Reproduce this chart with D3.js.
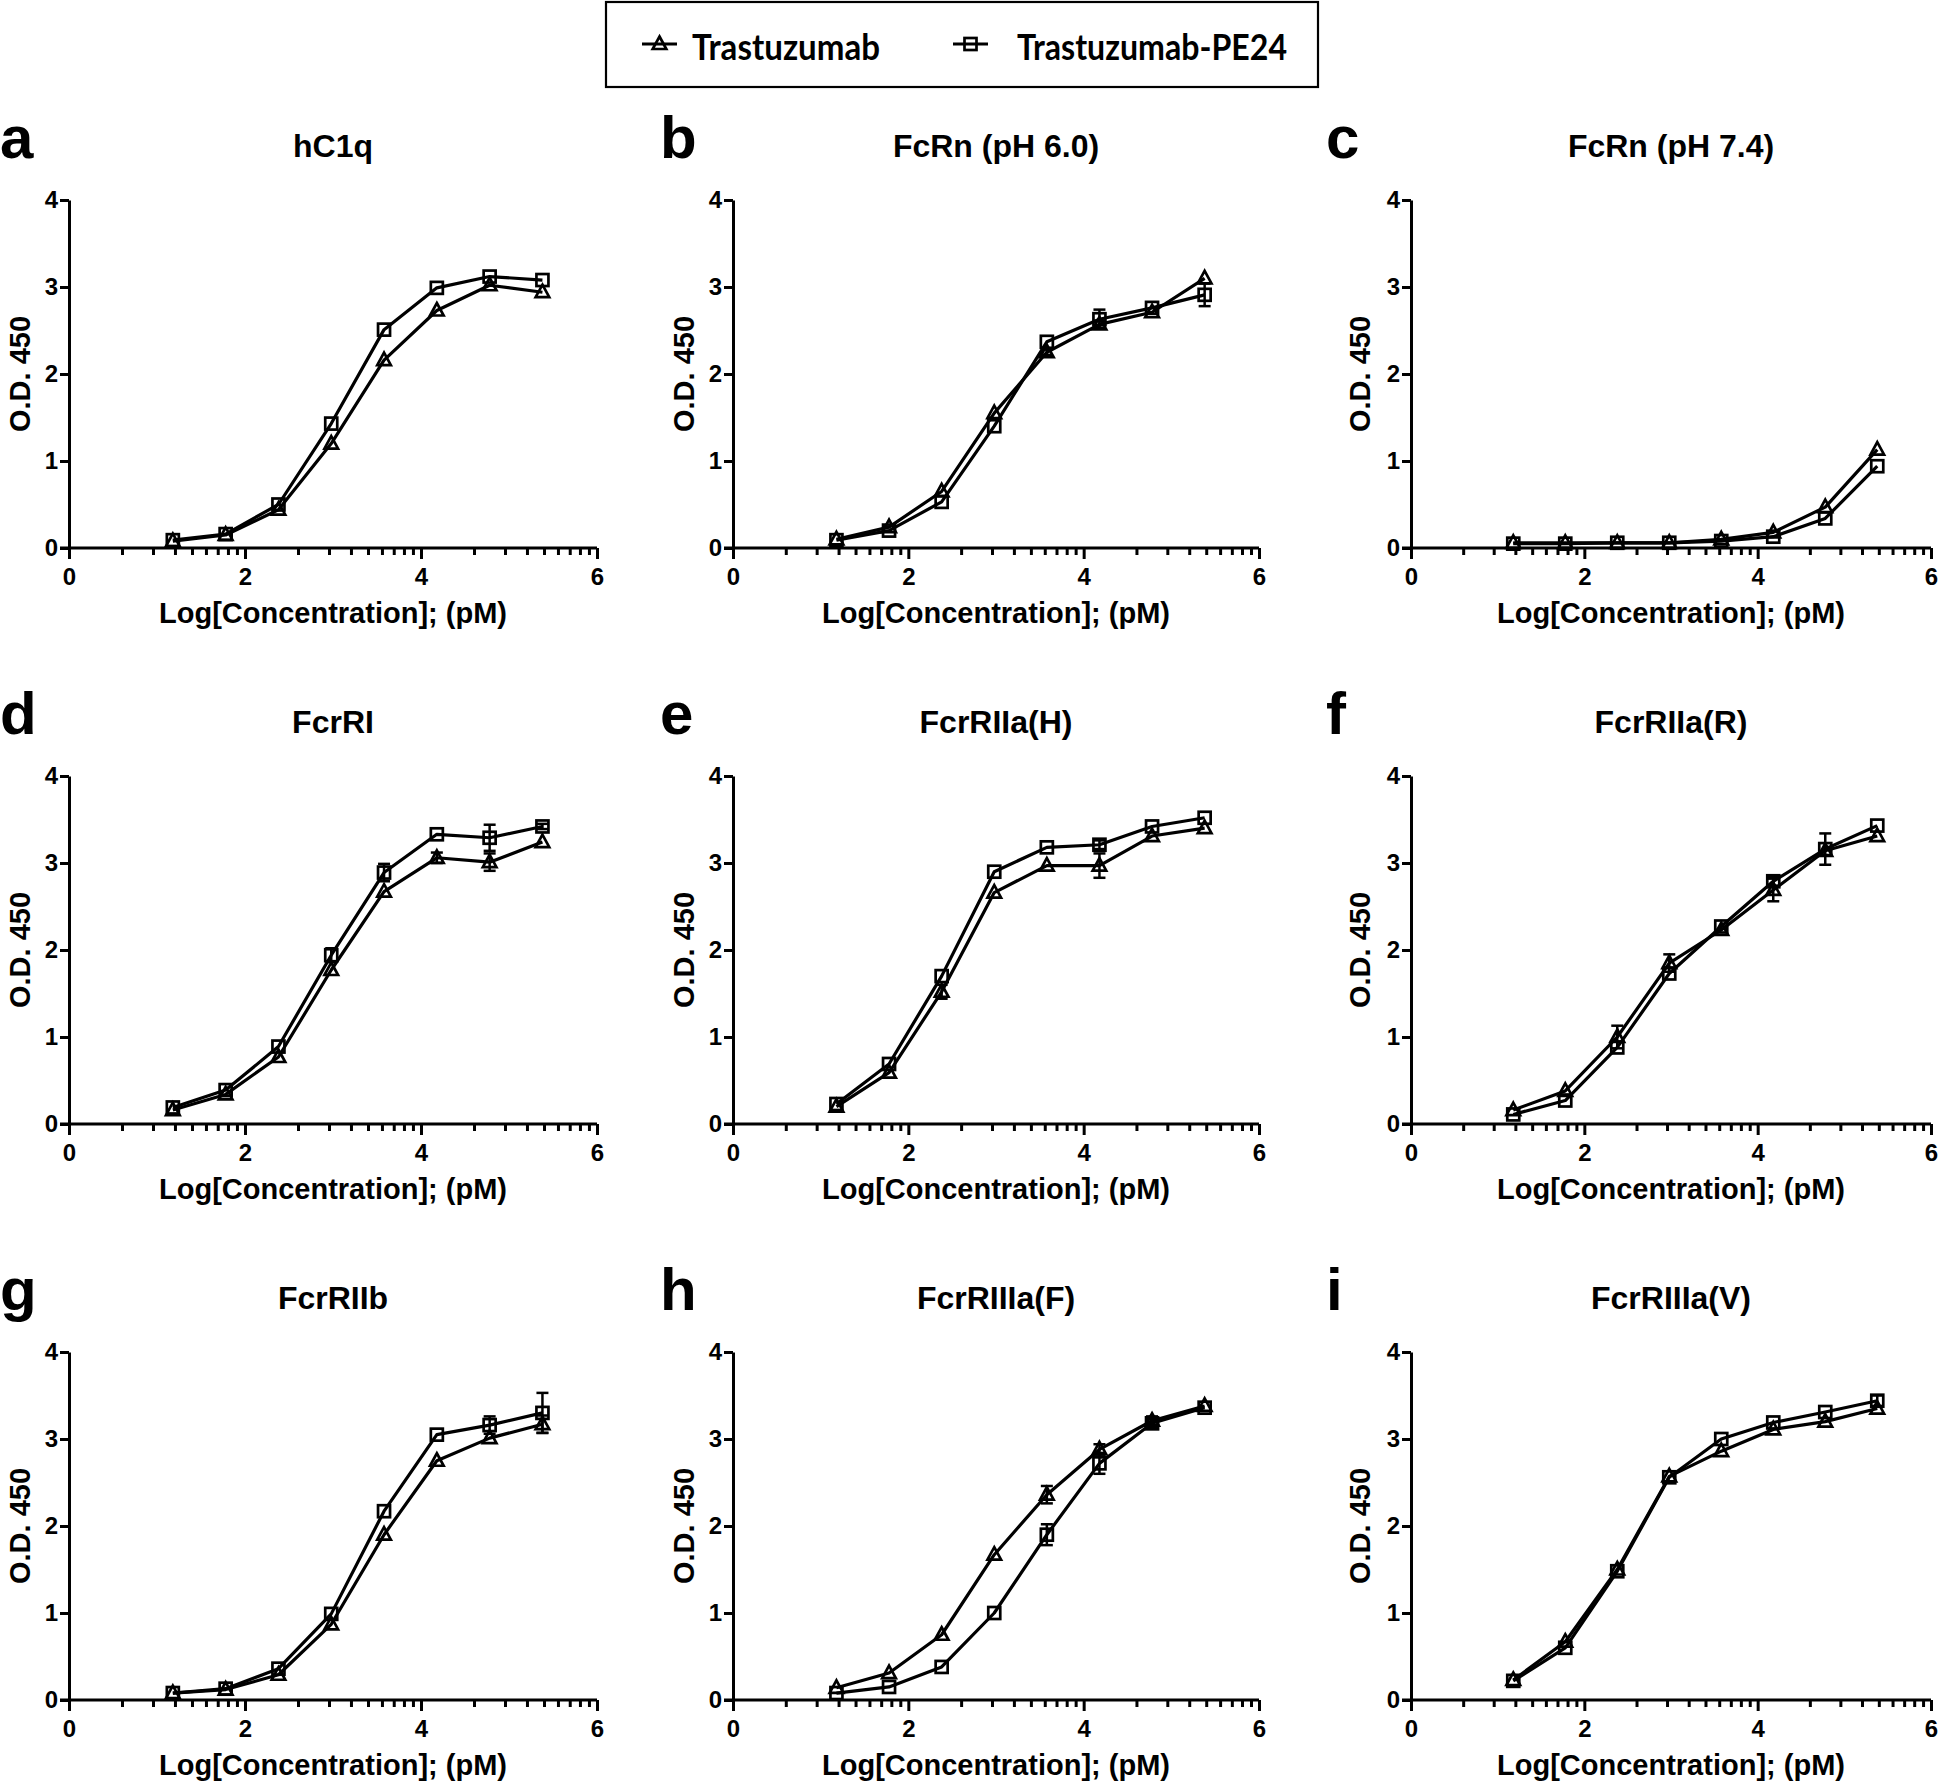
<!DOCTYPE html>
<html><head><meta charset="utf-8">
<script src="https://cdn.jsdelivr.net/npm/d3@7"></script>
<style>
body{margin:0;background:#fff;}
svg text{font-family:"Liberation Sans",Arial,Helvetica,sans-serif;font-weight:bold;fill:#000;}
</style></head><body>
<svg id="chart" width="1946" height="1787"></svg>
<script>
// ---------------- data ----------------
const xValues = [1.18, 1.78, 2.38, 2.98, 3.58, 4.18, 4.78, 5.38];
const seriesNames = ["Trastuzumab", "Trastuzumab-PE24"];
const panelLetters = ["a","b","c","d","e","f","g","h","i"];
const panelTitles = ["hC1q","FcRn (pH 6.0)","FcRn (pH 7.4)","FcrRI","FcrRIIa(H)","FcrRIIa(R)","FcrRIIb","FcrRIIIa(F)","FcrRIIIa(V)"];
const xTicks = [0, 2, 4, 6];
const yTicks = [0, 1, 2, 3, 4];
const xLabel = "Log[Concentration]; (pM)";
const yLabel = "O.D. 450";

const trastuzumab = [
  [0.08,0.15,0.44,1.20,2.16,2.73,3.02,2.94],
  [0.10,0.24,0.65,1.55,2.25,2.57,2.71,3.10],
  [0.06,0.06,0.06,0.06,0.10,0.18,0.47,1.13],
  [0.16,0.34,0.77,1.77,2.67,3.06,3.01,3.24],
  [0.20,0.59,1.52,2.66,2.97,2.97,3.31,3.40],
  [0.16,0.38,1.00,1.85,2.23,2.69,3.14,3.31],
  [0.08,0.12,0.29,0.87,1.90,2.75,3.01,3.17],
  [0.14,0.31,0.75,1.67,2.36,2.88,3.21,3.38],
  [0.23,0.67,1.50,2.57,2.86,3.11,3.20,3.35]
];
const trastuzumabErr = [
  [0,0,0,0,0,0,0,0],
  [0,0,0,0,0.03,0.04,0,0],
  [0,0,0,0,0,0,0,0],
  [0,0,0,0,0,0.06,0.10,0],
  [0,0,0.08,0,0,0.14,0,0],
  [0,0,0.13,0.10,0,0.13,0,0],
  [0,0,0,0,0,0,0,0.10],
  [0,0,0,0,0.10,0.06,0.05,0],
  [0,0,0,0,0,0,0,0]
];
const pe24 = [
  [0.09,0.16,0.50,1.43,2.51,2.99,3.12,3.08],
  [0.09,0.20,0.53,1.40,2.37,2.63,2.76,2.91],
  [0.05,0.05,0.06,0.06,0.08,0.13,0.34,0.94],
  [0.19,0.39,0.89,1.94,2.89,3.33,3.29,3.42],
  [0.23,0.69,1.70,2.90,3.18,3.21,3.42,3.52],
  [0.11,0.27,0.88,1.73,2.27,2.79,3.16,3.43],
  [0.08,0.13,0.36,0.99,2.17,3.05,3.16,3.30],
  [0.08,0.15,0.38,1.00,1.90,2.72,3.18,3.36],
  [0.22,0.60,1.48,2.56,3.00,3.19,3.31,3.44]
];
const pe24Err = [
  [0,0,0,0,0,0,0,0],
  [0,0,0,0,0,0.11,0,0.13],
  [0,0,0,0,0,0,0,0],
  [0,0,0,0.08,0.10,0,0.15,0.03],
  [0,0,0,0,0,0.05,0,0],
  [0,0,0,0,0,0.05,0.18,0],
  [0,0,0,0,0,0,0.10,0.23],
  [0,0,0,0,0.12,0.12,0.05,0],
  [0,0,0,0,0,0,0,0.06]
];

// ---------------- layout ----------------
const colX = [69, 733, 1411];
const colW = [528, 526, 520];
const rowY = [200, 776, 1352];
const letterX = [0, 660, 1326];
const plotH = 348;
const svg = d3.select("#chart");

// log-spaced minor ticks within each 2-unit interval (GraphPad style)
const minorTicks = [];
xTicks.slice(0, -1).forEach(t => d3.range(2, 10).forEach(k => minorTicks.push(t + 2 * Math.log10(k))));

function marker(sel, type) {
  if (type === 0) {
    sel.append("path").attr("d", "M0,-7.5L6.8,5L-6.8,5Z");
  } else {
    sel.append("rect").attr("x", -6).attr("y", -6).attr("width", 12).attr("height", 12);
  }
}

panelTitles.forEach((title, i) => {
  const r = Math.floor(i / 3), c = i % 3;
  const ox = colX[c], oy = rowY[r], plotW = colW[c];
  const g = svg.append("g").attr("transform", `translate(${ox},${oy})`);
  const x = d3.scaleLinear().domain([0, 6]).range([0, plotW]);
  const y = d3.scaleLinear().domain([0, 4]).range([plotH, 0]);

  // panel letter & title
  svg.append("text").attr("x", letterX[c]).attr("y", oy - 42)
    .style("font-size", "60px").text(panelLetters[i]);
  g.append("text").attr("x", plotW / 2).attr("y", -43).attr("text-anchor", "middle")
    .style("font-size", "32px").text(title);

  // axes
  const xAxis = g.append("g").attr("transform", `translate(0,${plotH})`)
    .call(d3.axisBottom(x).tickValues(xTicks).tickSize(11).tickSizeOuter(0).tickPadding(9).tickFormat(d3.format("d")));
  const xMinor = g.append("g").attr("transform", `translate(0,${plotH})`)
    .call(d3.axisBottom(x).tickValues(minorTicks).tickSize(7).tickSizeOuter(0).tickFormat(""));
  xMinor.select(".domain").remove();
  const yAxis = g.append("g")
    .call(d3.axisLeft(y).tickValues(yTicks).tickSize(9).tickSizeOuter(0).tickPadding(2).tickFormat(d3.format("d")));
  [xAxis, xMinor, yAxis].forEach(a => {
    a.selectAll("path,line").attr("stroke", "#000").attr("stroke-width", 3);
    a.selectAll("text").style("font-size", "24px").style("font-family", "'Liberation Sans',Arial,sans-serif").style("font-weight", "bold").attr("fill", "#000");
  });
  xAxis.select(".domain").attr("d", `M-9,0H${plotW}`);

  // axis titles
  g.append("text").attr("x", plotW / 2).attr("y", plotH + 75).attr("text-anchor", "middle")
    .style("font-size", "29px").text(xLabel);
  g.append("text").attr("transform", `translate(${c === 2 ? -41 : -39},${plotH / 2}) rotate(-90)`)
    .attr("text-anchor", "middle").style("font-size", "29px").text(yLabel);

  const seriesVals = [trastuzumab[i], pe24[i]];
  const seriesErr = [trastuzumabErr[i], pe24Err[i]];
  const line = d3.line().x((d, k) => x(xValues[k])).y(d => y(d));

  seriesVals.forEach(vals => {
    g.append("path").datum(vals).attr("d", line)
      .attr("fill", "none").attr("stroke", "#000").attr("stroke-width", 3.2).attr("stroke-linejoin", "round");
  });
  seriesVals.forEach((vals, s) => {
    const errs = seriesErr[s];
    vals.forEach((v, k) => {
      const e = errs[k];
      if (e > 0) {
        const cx = x(xValues[k]);
        const eg = g.append("g").attr("stroke", "#000").attr("stroke-width", 2.5);
        eg.append("line").attr("x1", cx).attr("x2", cx).attr("y1", y(v - e)).attr("y2", y(v + e));
        [v - e, v + e].forEach(b => eg.append("line").attr("x1", cx - 6).attr("x2", cx + 6).attr("y1", y(b)).attr("y2", y(b)));
      }
    });
    vals.forEach((v, k) => {
      const m = g.append("g").attr("transform", `translate(${x(xValues[k])},${y(v)})`)
        .attr("fill", "none").attr("stroke", "#000").attr("stroke-width", 2.7);
      marker(m, s);
    });
  });
});

// ---------------- legend ----------------
const lg = svg.append("g");
lg.append("rect").attr("x", 606).attr("y", 2).attr("width", 712).attr("height", 85)
  .attr("fill", "#fff").attr("stroke", "#000").attr("stroke-width", 2.2);
const legendLineX = [642, 953];
const legendTextX = [692, 1017];
const legendTextW = [188, 270];
seriesNames.forEach((name, s) => {
  const lx = legendLineX[s];
  lg.append("line").attr("x1", lx).attr("x2", lx + 35).attr("y1", 44).attr("y2", 44)
    .attr("stroke", "#000").attr("stroke-width", 3);
  const m = lg.append("g").attr("transform", `translate(${lx + 17.5},44)`)
    .attr("fill", "none").attr("stroke", "#000").attr("stroke-width", 2.7);
  marker(m, s);
  lg.append("text").attr("x", legendTextX[s]).attr("y", 60)
    .style("font-family", "Lato,'Open Sans',sans-serif").style("font-size", "37px")
    .attr("textLength", legendTextW[s]).attr("lengthAdjust", "spacingAndGlyphs").text(name);
});
</script>
</body></html>
